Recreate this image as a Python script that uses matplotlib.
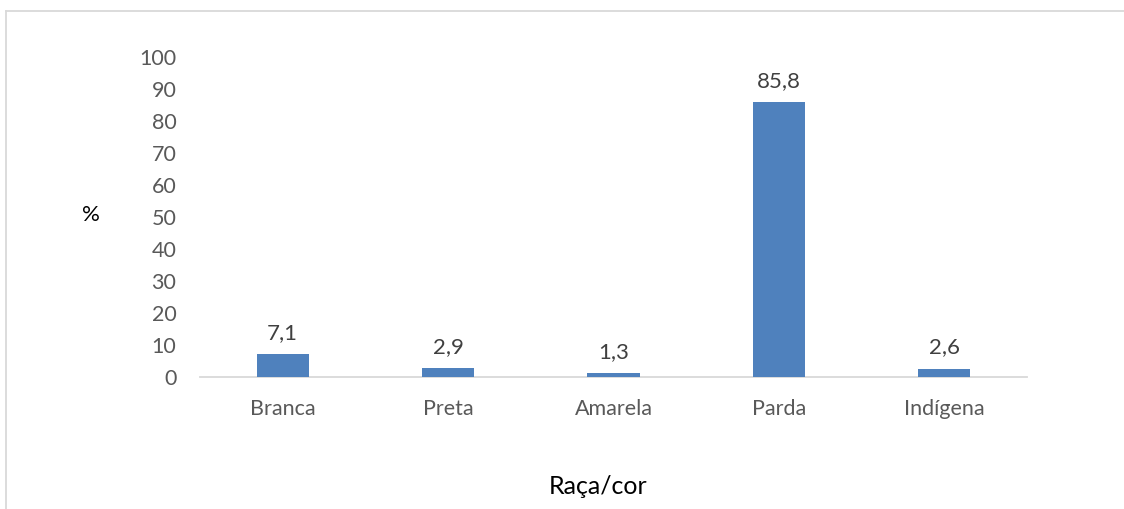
import matplotlib
matplotlib.use("Agg")
import matplotlib.pyplot as plt
from matplotlib.lines import Line2D

categories = ["Branca", "Preta", "Amarela", "Parda", "Indígena"]
values = [7.1, 2.9, 1.3, 85.8, 2.6]
labels = ["7,1", "2,9", "1,3", "85,8", "2,6"]
yticks = [0, 10, 20, 30, 40, 50, 60, 70, 80, 90, 100]

plt.rcParams['font.family'] = ['Lato', 'DejaVu Sans']

W, H = 1124, 509
fig = plt.figure(figsize=(W / 100, H / 100), dpi=100)
ax = fig.add_axes([200 / W, 1 - 377 / H, 827 / W, 320 / H])

bar_color = "#4f81bd"
ax.bar(range(len(categories)), values, width=0.315, color=bar_color, zorder=3)
ax.set_xlim(-0.5, len(categories) - 0.5)
ax.set_ylim(0, 100)
ax.set_yticks(yticks)
ax.set_yticklabels([str(v) for v in yticks])
ax.set_xticks(range(len(categories)))
ax.set_xticklabels(categories)

for s in ["top", "right", "left"]:
    ax.spines[s].set_visible(False)
ax.spines["bottom"].set_color("#d9d9d9")
ax.spines["bottom"].set_linewidth(1.3)
ax.tick_params(axis="both", length=0, labelsize=15.5, labelcolor="#595959")
ax.tick_params(axis="y", pad=17)
ax.tick_params(axis="x", pad=16)

for i, (v, t) in enumerate(zip(values, labels)):
    ax.annotate(t, (i, v), xytext=(0, 8), textcoords="offset points",
                ha="center", va="bottom", fontsize=16, color="#404040")

fig.text(91 / W, 1 - 215 / H, "%", ha="center", va="center", fontsize=16, color="#000000")
fig.text(598 / W, 1 - 487 / H, "Raça/cor", ha="center", va="center", fontsize=18, color="#000000")

fig.add_artist(Line2D([6 / W, 6 / W], [0, 1 - 11 / H], transform=fig.transFigure,
                      color="#d9d9d9", lw=1.3))
fig.add_artist(Line2D([6 / W, 1], [1 - 11 / H, 1 - 11 / H], transform=fig.transFigure,
                      color="#d9d9d9", lw=1.3))

fig.savefig("out.png", dpi=100)
